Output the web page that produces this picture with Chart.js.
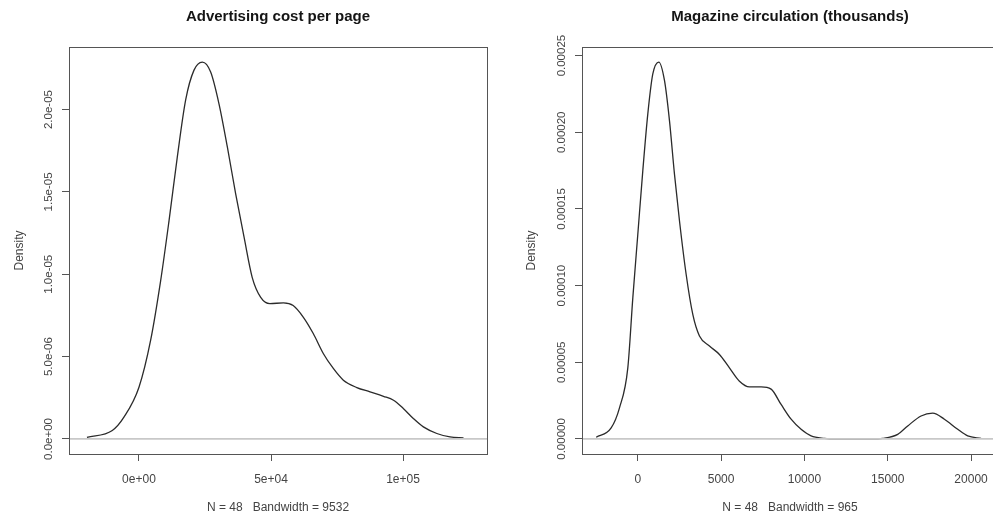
<!DOCTYPE html>
<html><head><meta charset="utf-8">
<script src="https://cdn.jsdelivr.net/npm/chart.js@4/dist/chart.umd.min.js"></script>
<style>
html,body{margin:0;padding:0;background:#fff;overflow:hidden;width:993px;height:517px;position:relative;}
#c1{position:absolute;left:0;top:0;}
#c2{position:absolute;left:497px;top:0;}
</style></head><body>
<canvas id="c1" width="497" height="517"></canvas>
<canvas id="c2" width="510" height="517"></canvas>
<script>
// ---- Panel 1: Advertising cost per page ----
const adTitle = "Advertising cost per page";
const adXLabel = "N = 48   Bandwidth = 9532";
const adX = [-19700, -10100, -5700, 0, 4400, 8200, 11400, 14500, 17700, 20800, 24000, 27150, 30300, 33500, 36600, 39800, 42900, 46100, 49600, 54700, 58400, 62200, 66000, 69800, 73600, 77400, 82500, 87500, 92600, 96400, 100100, 103900, 107700, 112800, 117800, 122900];
const adDensity = [0.10e-6, 0.51e-6, 1.32e-6, 3.14e-6, 5.98e-6, 9.6e-6, 13.27e-6, 17.1e-6, 20.6e-6, 22.38e-6, 22.88e-6, 22.28e-6, 20.35e-6, 17.7e-6, 14.9e-6, 12.25e-6, 9.8e-6, 8.6e-6, 8.22e-6, 8.26e-6, 8.1e-6, 7.4e-6, 6.4e-6, 5.19e-6, 4.28e-6, 3.57e-6, 3.12e-6, 2.86e-6, 2.59e-6, 2.35e-6, 1.85e-6, 1.24e-6, 0.73e-6, 0.33e-6, 0.12e-6, 0.06e-6];
const adXTicks = [0, 50000, 100000];
const adXTickLabels = ["0e+00", "5e+04", "1e+05"];
const adYTicks = [0, 5e-6, 1e-5, 1.5e-5, 2e-5];
const adYTickLabels = ["0.0e+00", "5.0e-06", "1.0e-05", "1.5e-05", "2.0e-05"];

// ---- Panel 2: Magazine circulation (thousands) ----
const circTitle = "Magazine circulation (thousands)";
const circXLabel = "N = 48   Bandwidth = 965";
const circX = [-2500, -1600, -1100, -600, -300, 0, 300, 600, 900, 1260, 1600, 1900, 2200, 2500, 2900, 3300, 3700, 4300, 4900, 5500, 6100, 6700, 7400, 8000, 8600, 9200, 9800, 10400, 11200, 11800, 12600, 13400, 14000, 14700, 15600, 16200, 17000, 17700, 18400, 19200, 19800, 20600];
const circDensity = [1.1e-6, 7.2e-6, 20.3e-6, 46.4e-6, 92e-6, 133.5e-6, 175e-6, 212e-6, 238e-6, 245.8e-6, 233.8e-6, 207.6e-6, 172.7e-6, 142.3e-6, 107.4e-6, 81.2e-6, 67.1e-6, 60.6e-6, 55.1e-6, 46.4e-6, 37.7e-6, 34e-6, 34e-6, 32.5e-6, 22.5e-6, 12.9e-6, 6.3e-6, 2e-6, 0.4e-6, 0, 0, 0, 0, 0.4e-6, 3e-6, 8.5e-6, 15e-6, 16.8e-6, 12.9e-6, 6.3e-6, 2e-6, 0.4e-6];
const circXTicks = [0, 5000, 10000, 15000, 20000];
const circXTickLabels = ["0", "5000", "10000", "15000", "20000"];
const circYTicks = [0, 0.00005, 0.0001, 0.00015, 0.0002, 0.00025];
const circYTickLabels = ["0.00000", "0.00005", "0.00010", "0.00015", "0.00020", "0.00025"];

const FONT = "'Liberation Sans', Arial, sans-serif";
const TXT = '#444';

const framePlugin = {
  id: 'frame',
  afterDatasetsDraw(chart) {
    const {ctx, chartArea: a, scales: {y}} = chart;
    ctx.save();
    const y0 = y.getPixelForValue(0);
    ctx.strokeStyle = '#c8c8c8';
    ctx.lineWidth = 1.8;
    ctx.beginPath(); ctx.moveTo(a.left, y0); ctx.lineTo(a.right, y0); ctx.stroke();
    ctx.strokeStyle = '#555';
    ctx.lineWidth = 1;
    ctx.strokeRect(Math.round(a.left) + 0.5, Math.round(a.top) + 0.5, Math.round(a.right - a.left), Math.round(a.bottom - a.top));
    ctx.restore();
  }
};

function makeChart(id, c) {
  return new Chart(document.getElementById(id), {
    type: 'line',
    data: { datasets: [{
      data: c.xs.map((x, i) => ({x: x, y: c.ys[i]})),
      borderColor: '#2b2b2b', borderWidth: 1.3, pointRadius: 0,
      cubicInterpolationMode: 'monotone', fill: false
    }]},
    options: {
      responsive: false, animation: false, devicePixelRatio: 1,
      layout: { padding: { left: 0, right: c.padRight, top: 0, bottom: 0 } },
      plugins: {
        legend: { display: false }, tooltip: { enabled: false },
        title: { display: true, text: c.title, fullSize: false, color: '#151515',
          font: { family: FONT, size: 15, weight: 'bold' }, padding: { top: 8, bottom: 21 } }
      },
      scales: {
        x: {
          type: 'linear', min: c.xMin, max: c.xMax,
          afterFit(s) { s.height = 63; },
          afterBuildTicks(s) { s.ticks = c.xTicks.map(v => ({value: v})); },
          ticks: { callback: (v, i) => c.xTickLabels[i], autoSkip: false, minRotation: 0, maxRotation: 0,
            padding: 11, color: TXT, font: { family: FONT, size: 12 } },
          grid: { drawOnChartArea: false, drawTicks: true, tickLength: 7, tickColor: '#555', tickWidth: 1 },
          border: { display: false },
          title: { display: true, text: c.xLabel, color: TXT, font: { family: FONT, size: 12 }, padding: { top: 0, bottom: 1.8 } }
        },
        y: {
          type: 'linear', min: c.yMin, max: c.yMax,
          afterFit(s) { s.width = c.yAxisWidth; },
          afterBuildTicks(s) { s.ticks = c.yTicks.map(v => ({value: v})); },
          ticks: { callback: (v, i) => c.yTickLabels[i], autoSkip: false, minRotation: 90, maxRotation: 90,
            crossAlign: 'center', padding: -8, color: TXT, font: { family: FONT, size: 11.5 } },
          grid: { drawOnChartArea: false, drawTicks: true, tickLength: 7, tickColor: '#555', tickWidth: 1 },
          border: { display: false },
          title: { display: true, text: 'Density', color: TXT, font: { family: FONT, size: 12 }, padding: { top: c.yTitlePad, bottom: 0 } }
        }
      }
    },
    plugins: [framePlugin]
  });
}

makeChart('c1', {
  title: adTitle, xLabel: adXLabel, xs: adX, ys: adDensity,
  xTicks: adXTicks, xTickLabels: adXTickLabels, yTicks: adYTicks, yTickLabels: adYTickLabels,
  xMin: -26500, xMax: 131800, yMin: -0.915e-6, yMax: 23.8e-6,
  padRight: 10, yAxisWidth: 69, yTitlePad: 12.8
});
makeChart('c2', {
  title: circTitle, xLabel: circXLabel, xs: circX, ys: circDensity,
  xTicks: circXTicks, xTickLabels: circXTickLabels, yTicks: circYTicks, yTickLabels: circYTickLabels,
  xMin: -3350, xMax: 21618, yMin: -9.8e-6, yMax: 255.6e-6,
  padRight: 9, yAxisWidth: 85, yTitlePad: 27.8
});
</script>
</body></html>
